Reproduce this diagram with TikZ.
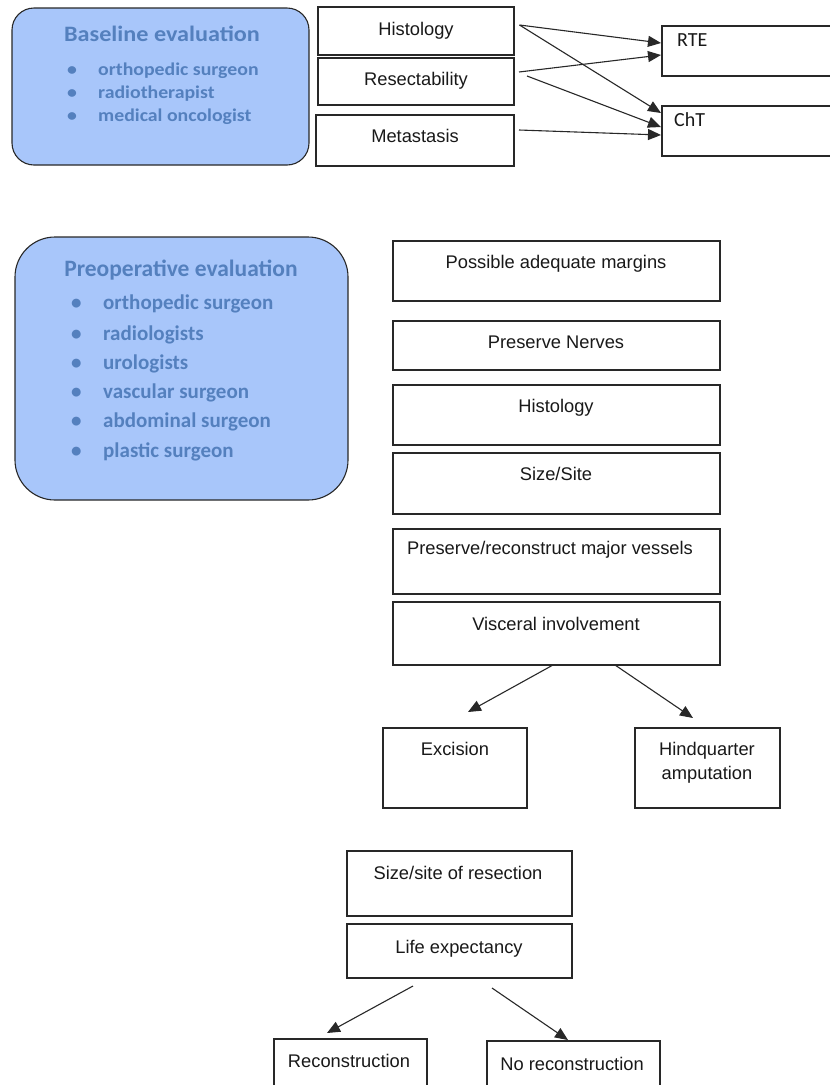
\documentclass[tikz,border=0pt]{standalone}
\usepackage{fontspec}
\setmainfont{Liberation Sans}
\newfontfamily\calfont{Carlito}
\newfontfamily\calwide{Carlito}[FakeStretch=1.1]
\usetikzlibrary{arrows.meta}
\definecolor{evalfill}{RGB}{168,198,250}
\definecolor{evaltext}{RGB}{84,128,190}
\definecolor{edgecol}{RGB}{40,40,40}
\begin{document}
\begin{tikzpicture}[x=1pt,y=-1pt,
  box/.style={draw=edgecol, line width=1.1pt, fill=white, inner sep=0pt, outer sep=0pt, anchor=north west},
  evalbox/.style={draw=edgecol, line width=1.1pt, fill=evalfill, inner sep=0pt, outer sep=0pt, anchor=north west},
  lbl/.style={font=\fontsize{18.3}{21}\selectfont, text=black!90, inner sep=0pt, text height=0.6em, text depth=0.15em},
  callbl/.style={font=\calfont\fontsize{20}{24}\selectfont, text=black!90, inner sep=0pt, text height=0.6em, text depth=0.15em, anchor=west},
  btitle/.style={font=\calwide\bfseries\fontsize{22}{26}\selectfont, text=evaltext, inner sep=0pt, text height=0.6em, text depth=0.15em},
  bitem/.style={font=\calwide\bfseries\fontsize{18}{22}\selectfont, text=evaltext, inner sep=0pt, text height=0.5em, text depth=0.1em, anchor=west},
  ptitle/.style={font=\calfont\bfseries\fontsize{23.5}{28}\selectfont, text=evaltext, inner sep=0pt, text height=0.6em, text depth=0.15em},
  pitem/.style={font=\calfont\bfseries\fontsize{21}{25}\selectfont, text=evaltext, inner sep=0pt, text height=0.5em, text depth=0.1em, anchor=west},
  arr/.style={draw=edgecol, line width=1.1pt, -{Triangle[length=13pt,width=11pt]}}
]
\useasboundingbox (0,0) rectangle (830,1085);
\clip (0,0) rectangle (830,1085);
\fill[white] (0,0) rectangle (830,1085);

% ---------- Baseline evaluation ----------
\node[evalbox, rounded corners=22pt, minimum width=297pt, minimum height=157pt] (base) at (12,8) {};
\node[btitle] (base-t) at (162,39) {Baseline evaluation};
\node[bitem] (base-b1) at (67,73) {•};
\node[bitem] (base-i1) at (98,73) {orthopedic surgeon};
\node[bitem] (base-b2) at (67,96) {•};
\node[bitem] (base-i2) at (98,96) {radiotherapist};
\node[bitem] (base-b3) at (67,119) {•};
\node[bitem] (base-i3) at (98,119) {medical oncologist};

\node[box, minimum width=196pt, minimum height=48pt] (hist) at (318,7) {};
\node[lbl] (hist-t) at (416,33) {Histology};
\node[box, minimum width=196pt, minimum height=47pt] (res) at (318,58) {};
\node[lbl] (res-t) at (416,83) {Resectability};
\node[box, minimum width=198pt, minimum height=51pt] (meta) at (316,115) {};
\node[lbl] (meta-t) at (415,140) {Metastasis};

\node[box, minimum width=180pt, minimum height=50pt] (rte) at (662,26) {};
\node[callbl] (rte-t) at (677,44) {RTE};
\node[box, minimum width=180pt, minimum height=50pt] (cht) at (662,106) {};
\node[callbl] (cht-t) at (674,124) {ChT};

\draw[arr] ([shift={(5.5,-6)}]hist.east) -- ([shift={(-1,-8)}]rte.west);
\draw[arr] ([shift={(5.5,-6)}]hist.east) -- ([shift={(-1,-18)}]cht.west);
\draw[arr] ([shift={(5,-9.5)}]res.east) -- ([shift={(-1,4)}]rte.west);
\draw[arr] ([shift={(13,-5.5)}]res.east) -- ([shift={(-1,-4)}]cht.west);
\draw[arr] ([shift={(5,-10.5)}]meta.east) -- ([shift={(-1,4)}]cht.west);

% ---------- Preoperative evaluation ----------
\node[evalbox, rounded corners=40pt, minimum width=333pt, minimum height=263pt] (pre) at (15,237) {};
\node[ptitle] (pre-t) at (181,274) {Preoperative evaluation};
\node[pitem] (pre-b1) at (71,307) {•};
\node[pitem] (pre-i1) at (103,307) {orthopedic surgeon};
\node[pitem] (pre-b2) at (71,338) {•};
\node[pitem] (pre-i2) at (103,338) {radiologists};
\node[pitem] (pre-b3) at (71,367) {•};
\node[pitem] (pre-i3) at (103,367) {urologists};
\node[pitem] (pre-b4) at (71,396) {•};
\node[pitem] (pre-i4) at (103,396) {vascular surgeon};
\node[pitem] (pre-b5) at (71,425) {•};
\node[pitem] (pre-i5) at (103,425) {abdominal surgeon};
\node[pitem] (pre-b6) at (71,455) {•};
\node[pitem] (pre-i6) at (103,455) {plastic surgeon};

\node[box, minimum width=327pt, minimum height=60pt] (pam) at (393,241) {};
\node[lbl] (pam-t) at (556,266) {Possible adequate margins};
\node[box, minimum width=327pt, minimum height=49pt] (nerv) at (393,321) {};
\node[lbl] (nerv-t) at (556,346) {Preserve Nerves};
\node[box, minimum width=327pt, minimum height=60pt] (hist2) at (393,385) {};
\node[lbl] (hist2-t) at (556,410) {Histology};
\node[box, minimum width=327pt, minimum height=61pt] (size) at (393,453) {};
\node[lbl] (size-t) at (556,478) {Size/Site};
\node[box, minimum width=327pt, minimum height=65pt] (vess) at (393,529) {};
\node[lbl] (vess-t) at (550,552) {Preserve/reconstruct major vessels};
\node[box, minimum width=327pt, minimum height=63pt] (vis) at (393,602) {};
\node[lbl] (vis-t) at (556,628) {Visceral involvement};

\node[box, minimum width=144pt, minimum height=80pt] (exc) at (383,728) {};
\node[lbl] (exc-t) at (455,753) {Excision};
\node[box, minimum width=145pt, minimum height=80pt] (hq) at (635,728) {};
\node[lbl] (hq-t1) at (707,753) {Hindquarter};
\node[lbl] (hq-t2) at (707,777) {amputation};

\draw[arr] ([shift={(-3.5,0)}]vis.south) -- ([shift={(13,-16)}]exc.north);
\draw[arr] ([shift={(58.5,0)}]vis.south) -- ([shift={(-14.5,-10)}]hq.north);

% ---------- Reconstruction ----------
\node[box, minimum width=225pt, minimum height=65pt] (sor) at (347,851) {};
\node[lbl] (sor-t) at (458,877) {Size/site of resection};
\node[box, minimum width=225pt, minimum height=54pt] (life) at (347,924) {};
\node[lbl] (life-t) at (459,951) {Life expectancy};

\node[box, minimum width=153pt, minimum height=70pt] (rec) at (274,1039) {};
\node[lbl] (rec-t) at (349,1065) {Reconstruction};
\node[box, minimum width=173pt, minimum height=70pt] (norec) at (487,1041) {};
\node[lbl] (norec-t) at (572,1068) {No reconstruction};

\draw[arr] ([shift={(-46.5,8)}]life.south) -- ([shift={(-23.5,-6)}]rec.north);
\draw[arr] ([shift={(32.5,10)}]life.south) -- ([shift={(-5.5,-1)}]norec.north);
\end{tikzpicture}
\end{document}
